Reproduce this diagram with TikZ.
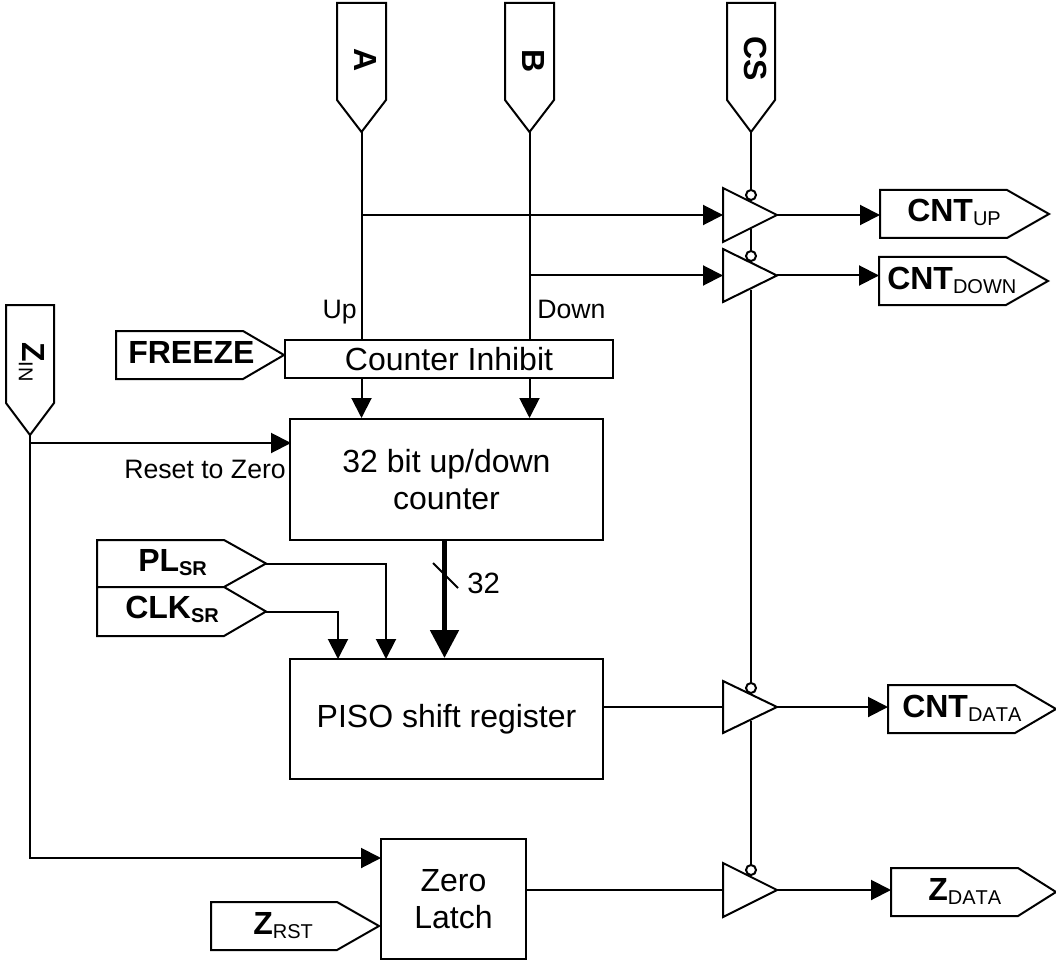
\documentclass[tikz,border=0pt]{standalone}
\usepackage{fontspec}
\setmainfont{Liberation Sans}
\usetikzlibrary{arrows.meta}
\tikzset{
  wire/.style={line width=1.5pt},
  arr/.style={wire,-{Triangle[length=15pt,width=15pt]}},
  bigarr/.style={line width=3.9pt,-{Triangle[length=21pt,width=21pt]}},
  shp/.style={line width=1.5pt,line join=miter,fill=white},
  boxn/.style={draw,line width=1.5pt,fill=white,inner sep=0pt,font=\fontsize{24}{27.5}\selectfont,align=center},
  lab/.style={inner sep=0pt,anchor=base west,font=\fontsize{24}{29}\selectfont},
  vlab/.style={inner sep=0pt,rotate=-90,font=\fontsize{24}{29}\selectfont},
  small/.style={inner sep=0pt,anchor=base west,font=\fontsize{20}{24}\selectfont}
}
% name, left, top, shoulder x, tip x, bottom
\newcommand{\sigright}[6]{%
  \draw[shp] (#2,#3) -- (#4,#3) -- (#5,{(#3+#6)/2}) -- (#4,#6) -- (#2,#6) -- cycle;
  \coordinate (#1) at (#5,{(#3+#6)/2});
  \coordinate (#1-l) at (#2,{(#3+#6)/2});
}
% name, left, right, top, shoulder y, tip y
\newcommand{\sigdown}[6]{%
  \draw[shp] (#2,#4) -- (#3,#4) -- (#3,#5) -- ({(#2+#3)/2},#6) -- (#2,#5) -- cycle;
  \coordinate (#1) at ({(#2+#3)/2},#6);
}
% name, top, tip y
\newcommand{\buffer}[3]{%
  \draw[shp] (723,#2) -- (777,#3) -- (723,{2*#3-#2}) -- cycle;
  \coordinate (#1-in) at (723,#3);
  \coordinate (#1-out) at (777,#3);
  \draw[line width=1.5pt,fill=white] (751,#2+7) circle (3.75pt);
  \coordinate (#1-en) at (751,#2+2);
  \coordinate (#1-bot) at (751,#3+14);
}
\newcommand{\sbs}[1]{\raisebox{-3pt}{\fontsize{15}{18}\selectfont\addfontfeatures{Kerning=Off}#1}}
\begin{document}
\begin{tikzpicture}[x=0.75pt,y=-0.75pt]
\useasboundingbox (0,0) rectangle (1056,966);
% input tags
\sigdown{A}{337}{386}{3}{100}{132}
\sigdown{B}{505}{554}{3}{100}{132}
\sigdown{CS}{727}{775}{3}{100}{132}
\sigdown{ZIN}{6}{54}{305}{403}{435}
\sigright{FRZ}{116}{331}{243}{284}{379}
\sigright{PLSR}{97}{540}{224}{266}{587}
\sigright{CLKSR}{97}{587}{224}{266}{636}
\sigright{ZRST}{211}{902}{337}{379}{950}
% output tags
\sigright{UPT}{880}{190}{1007}{1049}{238}
\sigright{DNT}{879}{257}{1006}{1048}{305}
\sigright{DAT}{888}{685}{1015}{1056}{733}
\sigright{ZDT}{891}{868}{1018}{1056}{916}
% tag labels
\node[vlab] (tA) at (366,60) {\textbf{A}};
\node[vlab] (tB) at (534,61) {\textbf{B}};
\node[vlab] (tCS) at (756,59) {\textbf{CS}};
\node[vlab] (tZ) at (32,362) {\textbf{Z}\sbs{IN}};
\node[lab] (tF) at (128,363) {\textbf{FREEZE}};
\node[lab] (tPL) at (138,571) {\textbf{PL\sbs{SR}}};
\node[lab] (tCLK) at (125,618) {\textbf{CLK\sbs{SR}}};
\node[lab] (tZR) at (253,934) {\textbf{Z}\sbs{RST}};
\node[lab] (tUP) at (907,222) {\textbf{CNT}\sbs{UP}};
\node[lab] (tDN) at (887,289) {\textbf{CNT}\sbs{DOWN}};
\node[lab] (tDA) at (902,717) {\textbf{CNT}\sbs{DATA}};
\node[lab] (tZD) at (928,900) {\textbf{Z}\sbs{DATA}};
% boxes
\node[boxn,minimum width=246pt,minimum height=28.5pt] (inh) at (449,359) {Counter Inhibit};
\node[boxn,minimum width=235pt,minimum height=90.75pt] (cnt) at (446.5,479.5) {32 bit up/down\\counter};
\node[boxn,minimum width=235pt,minimum height=90pt] (piso) at (446.5,719) {PISO shift register};
\node[boxn,minimum width=108.75pt,minimum height=90pt] (zl) at (453.5,899) {Zero\\Latch};
% helper points
\coordinate (rst) at (291,443);
\coordinate (zlin) at (381,858);
\coordinate (bus) at (444.5,540);
\coordinate (plin) at (386,659);
\coordinate (clkin) at (338,659);
\coordinate (slA) at (433,563);
\coordinate (slB) at (458,588);
% buffers
\buffer{b1}{188}{215}
\buffer{b2}{249}{275.5}
\buffer{b3}{681}{707}
\buffer{b4}{863}{890}
% enable line
\draw[wire] (CS) -- (b1-en);
\draw[wire] (b1-bot) -- (b2-en);
\draw[wire] (b2-bot) -- (b3-en);
\draw[wire] (b3-bot) -- (b4-en);
% buffer outputs
\draw[arr] (b1-out) -- (b1-out -| UPT-l);
\draw[arr] (b2-out) -- (b2-out -| DNT-l);
\draw[arr] (b3-out) -- (b3-out -| DAT-l);
\draw[arr] (b4-out) -- (b4-out -| ZDT-l);
% A and B
\draw[wire] (A) -- (A |- inh.north);
\draw[wire] (B) -- (B |- inh.north);
\draw[arr] (A |- b1-in) -- (b1-in);
\draw[arr] (B |- b2-in) -- (b2-in);
\draw[arr] (A |- inh.south) -- (A |- cnt.north);
\draw[arr] (B |- inh.south) -- (B |- cnt.north);
\node[small,anchor=base east] (lUp) at (357,318) {Up};
\node[small] (lDn) at (537,318) {Down};
% Z in
\draw[arr] (ZIN) |- (zlin);
\draw[arr] (ZIN |- rst) -- (rst);
\node[small] (lR) at (124,478) {Reset to Zero};
% shift register
\draw[bigarr] (bus) -- (bus |- piso.north);
\draw[wire] (slA) -- (slB);
\node[lab,font=\fontsize{22}{26}\selectfont] (n32) at (467,593) {32};
\draw[arr] (PLSR) -| (plin);
\draw[arr] (CLKSR) -| (clkin);
\draw[wire] (piso.east |- b3-in) -- (b3-in);
\draw[wire] (zl.east |- b4-in) -- (b4-in);
\end{tikzpicture}
\end{document}
